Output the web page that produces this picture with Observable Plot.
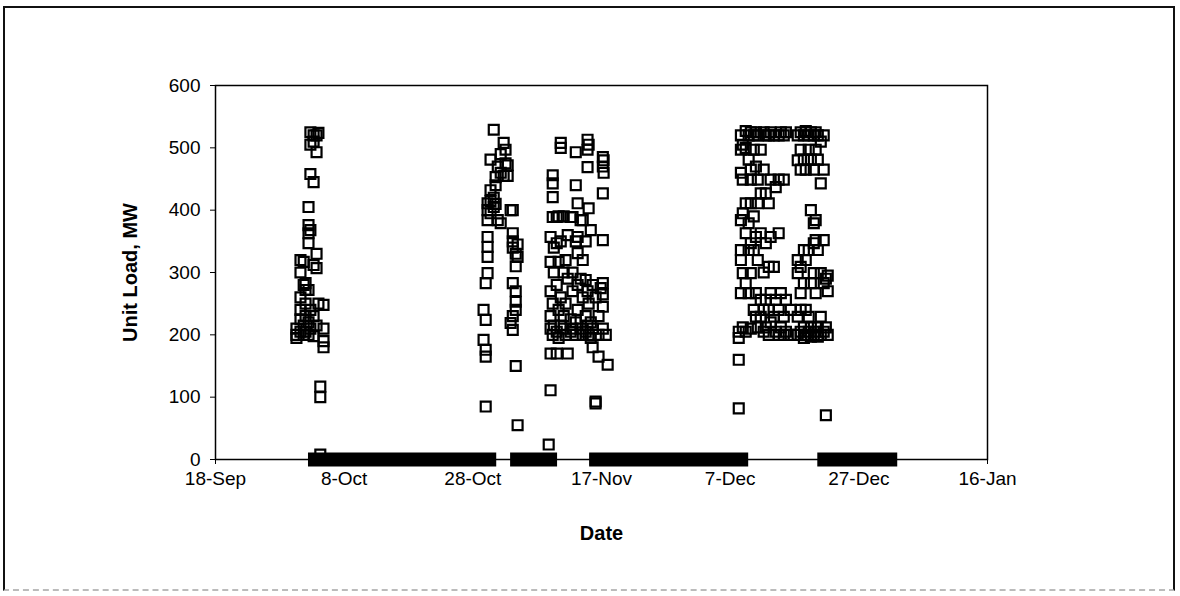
<!DOCTYPE html>
<html><head><meta charset="utf-8">
<script src="https://cdn.jsdelivr.net/npm/d3@7"></script>
<script src="https://cdn.jsdelivr.net/npm/@observablehq/plot@0.6"></script>
<style>
html,body{margin:0;padding:0;background:#fff;}
#wrap{position:relative;width:1180px;height:596px;overflow:hidden;}
#border{position:absolute;left:3px;top:6px;width:1168px;height:581px;border:2px solid #111;border-bottom:2px dashed #bbb;pointer-events:none;}
g[aria-label="x-axis label"] text, g[aria-label="y-axis label"] text{font-weight:bold;font-size:20px;}
</style></head><body>
<div id="wrap"><div id="border"></div></div>
<script>
// x domain and tick labels (date "MM-DD HH"; January belongs to the next year)
const xDomain = ["09-18 00", "01-16 00"];
const xTicks = ["09-18 00", "10-08 00", "10-28 00", "11-17 00", "12-07 00", "12-27 00", "01-16 00"];
const yTicks = [0, 100, 200, 300, 400, 500, 600];

// zero-load periods (unit off line): [first hour, last hour]
const outages = [["10-03 13", "10-30 15"], ["11-03 23", "11-09 02"], ["11-16 06", "12-08 19"], ["12-21 17", "12-31 23"]];

// hourly unit load readings, MW
const earlyOct = [["09-30 14",200],["09-30 14",210],["09-30 14",195],["10-01 05",205],["10-01 05",225],["10-01 05",240],["10-01 05",260],["10-01 05",300],["10-01 05",320],["10-01 17",317],["10-01 17",280],["10-01 17",215],["10-01 17",200],["10-02 00",283],["10-02 00",250],["10-02 00",230],["10-02 00",205],["10-02 00",272],["10-02 11",347],["10-02 11",363],["10-02 11",376],["10-02 11",405],["10-02 11",272],["10-02 11",220],["10-02 11",200],["10-02 18",368],["10-02 18",458],["10-02 18",505],["10-02 18",525],["10-02 18",240],["10-02 18",210],["10-03 06",445],["10-03 06",510],["10-03 06",520],["10-03 06",312],["10-03 06",230],["10-03 06",198],["10-03 17",330],["10-03 17",520],["10-03 17",493],["10-03 17",215],["10-03 17",307],["10-04 00",524],["10-04 00",250],["10-04 07",117],["10-04 07",100],["10-04 07",8],["10-04 19",248],["10-04 19",210],["10-04 19",190],["10-04 19",180]];
const lateOct = [["10-29 16",240],["10-29 16",192],["10-30 00",85],["10-30 00",165],["10-30 00",176],["10-30 00",224],["10-30 00",283],["10-30 07",299],["10-30 07",325],["10-30 07",341],["10-30 07",357],["10-30 07",384],["10-30 07",400],["10-30 07",411],["10-30 18",481],["10-30 18",432],["10-30 18",415],["10-30 18",395],["10-31 06",529],["10-31 06",420],["10-31 06",405],["10-31 13",453],["10-31 13",440],["10-31 13",410],["10-31 21",384],["10-31 21",470],["11-01 08",379],["11-01 08",490],["11-01 08",460],["11-01 19",508],["11-01 19",455],["11-02 02",497],["11-02 02",475],["11-02 10",472],["11-02 10",455],["11-02 21",219],["11-02 21",400],["11-03 05",400],["11-03 05",363],["11-03 05",350],["11-03 05",340],["11-03 05",283],["11-03 05",208],["11-03 05",230],["11-03 16",330],["11-03 16",310],["11-03 16",270],["11-03 16",253],["11-03 16",240],["11-03 16",150],["11-03 23",345],["11-03 23",325],["11-03 23",55]];
const midNov = [["11-08 19",24],["11-09 02",111],["11-09 02",170],["11-09 02",210],["11-09 02",230],["11-09 02",270],["11-09 02",317],["11-09 02",357],["11-09 10",389],["11-09 10",421],["11-09 10",443],["11-09 10",456],["11-09 10",200],["11-09 10",250],["11-09 14",340],["11-09 14",300],["11-09 14",215],["11-10 01",347],["11-10 01",389],["11-10 01",170],["11-10 01",280],["11-10 01",205],["11-10 08",317],["11-10 08",390],["11-10 08",240],["11-10 08",195],["11-10 16",508],["11-10 16",500],["11-10 16",350],["11-10 16",260],["11-10 16",215],["11-11 03",230],["11-11 03",300],["11-11 03",390],["11-11 03",210],["11-11 10",320],["11-11 10",250],["11-11 10",200],["11-11 18",170],["11-11 18",290],["11-11 18",360],["11-12 05",389],["11-12 05",225],["11-12 05",205],["11-12 12",389],["11-12 12",300],["11-12 12",210],["11-12 12",270],["11-13 00",493],["11-13 00",440],["11-13 00",350],["11-13 00",220],["11-13 00",200],["11-13 07",411],["11-13 07",357],["11-13 07",331],["11-13 07",280],["11-13 07",240],["11-13 18",384],["11-13 18",290],["11-13 18",210],["11-14 02",384],["11-14 02",320],["11-14 02",260],["11-14 02",200],["11-14 13",350],["11-14 13",288],["11-14 13",230],["11-14 13",205],["11-14 20",513],["11-14 20",497],["11-14 20",469],["11-14 20",270],["11-14 20",215],["11-15 00",505],["11-15 00",403],["11-15 00",250],["11-15 00",200],["11-15 08",368],["11-15 08",220],["11-15 08",195],["11-15 15",180],["11-15 15",280],["11-15 15",210],["11-16 02",90],["11-16 02",93],["11-16 02",0],["11-16 02",260],["11-16 13",165],["11-16 13",230],["11-16 13",200],["11-16 21",275],["11-17 05",485],["11-17 05",470],["11-17 05",427],["11-17 05",352],["11-17 05",283],["11-17 05",265],["11-17 05",245],["11-17 05",210],["11-17 08",480],["11-17 08",460],["11-17 16",200],["11-17 23",152]];
const decLeft = [["12-08 08",160],["12-08 08",82],["12-08 08",205],["12-08 08",195],["12-08 16",520],["12-08 16",497],["12-08 16",460],["12-08 16",384],["12-08 16",336],["12-08 16",320],["12-08 16",267],["12-08 23",505],["12-08 23",449],["12-08 23",395],["12-08 23",299],["12-08 23",212],["12-09 10",527],["12-09 10",500],["12-09 10",411],["12-09 10",363],["12-09 10",283],["12-09 10",205],["12-09 21",520],["12-09 21",481],["12-09 21",379],["12-09 21",336],["12-09 21",267],["12-10 05",525],["12-10 05",465],["12-10 05",449],["12-10 05",411],["12-10 05",347],["12-10 05",299],["12-10 05",210],["12-10 16",520],["12-10 16",497],["12-10 16",390],["12-10 16",336],["12-10 16",240],["12-11 00",525],["12-11 00",470],["12-11 00",357],["12-11 00",267],["12-11 00",229],["12-11 07",520],["12-11 07",449],["12-11 07",411],["12-11 07",320],["12-11 07",212],["12-11 18",497],["12-11 18",427],["12-11 18",363],["12-11 18",256],["12-11 18",229],["12-12 05",525],["12-12 05",465],["12-12 05",300],["12-12 05",240],["12-12 05",205],["12-12 13",520],["12-12 13",427],["12-12 13",347],["12-12 13",256],["12-12 13",212],["12-13 00",520],["12-13 00",411],["12-13 00",309],["12-13 00",240],["12-13 00",200],["12-13 07",525],["12-13 07",449],["12-13 07",357],["12-13 07",267],["12-13 07",220],["12-13 19",520],["12-13 19",309],["12-13 19",229],["12-14 02",437],["12-14 02",256],["12-14 02",205],["12-14 13",520],["12-14 13",449],["12-14 13",363],["12-14 13",240],["12-14 13",200],["12-14 21",525],["12-14 21",267],["12-14 21",212],["12-15 08",520],["12-15 08",449],["12-15 08",229],["12-15 08",200],["12-15 16",525],["12-15 16",256],["12-15 16",205],["12-16 10",240],["12-16 10",200]];
const decRight = [["12-17 12",520],["12-17 12",480],["12-17 12",320],["12-17 12",299],["12-17 12",229],["12-17 12",200],["12-17 23",525],["12-17 23",497],["12-17 23",465],["12-17 23",309],["12-17 23",267],["12-17 23",240],["12-17 23",205],["12-18 11",520],["12-18 11",481],["12-18 11",336],["12-18 11",283],["12-18 11",212],["12-18 11",195],["12-18 18",527],["12-18 18",465],["12-18 18",320],["12-18 18",240],["12-18 18",200],["12-19 05",520],["12-19 05",497],["12-19 05",336],["12-19 05",229],["12-19 05",205],["12-19 13",525],["12-19 13",481],["12-19 13",400],["12-19 13",283],["12-19 13",212],["12-19 13",197],["12-20 00",520],["12-20 00",465],["12-20 00",379],["12-20 00",347],["12-20 00",299],["12-20 00",200],["12-20 07",525],["12-20 07",497],["12-20 07",384],["12-20 07",352],["12-20 07",267],["12-20 07",205],["12-20 15",520],["12-20 15",481],["12-20 15",336],["12-20 15",212],["12-20 15",197],["12-21 02",510],["12-21 02",443],["12-21 02",299],["12-21 02",229],["12-21 02",200],["12-21 13",520],["12-21 13",465],["12-21 13",352],["12-21 13",283],["12-21 13",205],["12-21 21",71],["12-21 21",290],["12-21 21",212],["12-22 04",270],["12-22 04",200],["12-22 04",295]];

const parse = d3.utcParse("%Y-%m-%d %H");
const toDate = s => parse((s.startsWith("01") ? "1997-" : "1996-") + s);
const points = [...earlyOct, ...lateOct, ...midNov, ...decLeft, ...decRight].map(([t, v]) => ({date: toDate(t), load: v}));
const offline = outages.map(([a, b]) => ({start: toDate(a), end: toDate(b), load: 0}));

const chart = Plot.plot({
  width: 1180, height: 596,
  marginLeft: 215, marginRight: 193, marginTop: 85, marginBottom: 137,
  style: {fontFamily: "Arial, 'Liberation Sans', sans-serif", fontSize: "19px", color: "#000", background: "transparent"},
  x: {type: "utc", domain: xDomain.map(toDate)},
  y: {domain: [0, 600]},
  marks: [
    Plot.frame({stroke: "#000", strokeWidth: 1.5}),
    Plot.axisX({ticks: xTicks.map(toDate), tickFormat: d3.utcFormat("%-d-%b"), tickSize: 5, tickPadding: 7, label: "Date", labelAnchor: "center", labelOffset: 80, labelArrow: "none"}),
    Plot.axisY({ticks: yTicks, tickSize: 5, tickPadding: 10, label: "Unit Load, MW", labelAnchor: "center", labelOffset: 93, labelArrow: "none"}),
    Plot.ruleY(offline, {x1: "start", x2: "end", y: "load", stroke: "#000", strokeWidth: 14, strokeLinecap: "square"}),
    Plot.dot(points, {x: "date", y: "load", symbol: "square", r: 5.6, stroke: "#000", strokeWidth: 2.2, fill: "none"})
  ]
});
document.getElementById("wrap").prepend(chart);
</script>
</body></html>
